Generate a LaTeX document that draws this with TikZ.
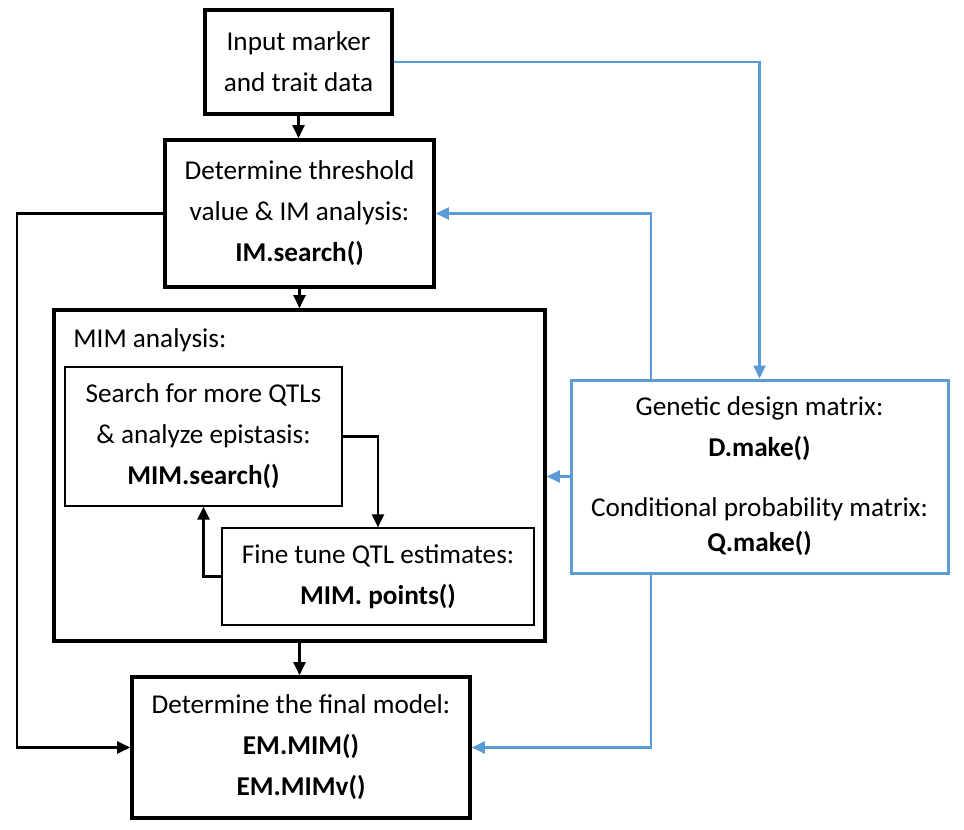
\documentclass[tikz,border=0pt]{standalone}
\usepackage{fontspec}
\setmainfont{Carlito}
\usetikzlibrary{arrows.meta, positioning, calc}
\definecolor{linkblue}{RGB}{91,155,213}

\begin{document}
\begin{tikzpicture}[x=0.5pt, y=-0.5pt,
   font=\fontsize{13.6}{20.5}\selectfont,
   box/.style={draw, rectangle, line width=1.8pt, align=center, inner sep=0pt},
   subbox/.style={draw, rectangle, line width=0.6pt, align=center, inner sep=0pt},
   bluebox/.style={draw=linkblue, rectangle, line width=1.5pt, align=center, inner sep=0pt},
   arr/.style={-{Triangle[length=6.5pt, width=6pt]}, line width=1.1pt},
   bluearr/.style={arr, draw=linkblue}]
\useasboundingbox (0,0) rectangle (964,830);

% Main steps
\node[box, minimum width=93.5pt, minimum height=52pt] (input) at (298.5, 62) {Input marker\\and trait data};
\node[box, minimum width=134.5pt, minimum height=73.5pt] (thresh) at (299.5, 213.5) {Determine threshold\\value \& IM analysis:\\\textbf{IM.search()}};
\node[box, minimum width=245.5pt, minimum height=165.5pt] (mim) at (299.5, 475.5) {};
\node[anchor=west, inner sep=0pt] (mimlbl) at (73, 340) {MIM analysis:};
\node[box, minimum width=169pt, minimum height=70.5pt] (final) at (301, 747.5) {Determine the final model:\\\textbf{EM.MIM()}\\\textbf{EM.MIMv()}};

% MIM loop
\node[subbox, minimum width=138.5pt, minimum height=69.5pt] (search) at (203.5, 436.5) {Search for more QTLs\\\& analyze epistasis:\\\textbf{MIM.search()}};
\node[subbox, minimum width=156pt, minimum height=48.5pt] (fine) at (378, 576.5) {Fine tune QTL estimates:\\\textbf{MIM. points()}};

% Design matrices
\node[bluebox, minimum width=188.5pt, minimum height=96.5pt] (gen) at (759.5, 476.5) {Genetic design matrix:\\\textbf{D.make()}\\[9.5pt]Conditional probability matrix:\\[-3pt]\textbf{Q.make()}};

\coordinate (lft) at (17, 0);
\coordinate (tap) at (651, 0);

% Black connectors
\draw[arr] (input.south) -- (input.south |- thresh.north);
\draw[arr] (thresh.south) -- (thresh.south |- mim.north);
\draw[arr] (mim.south) -- (mim.south |- final.north);
\draw[arr] (thresh.west) -- (thresh.west -| lft) -- (lft |- final.west) -- (final.west);
\draw[arr] (search.east) -| (fine.north);
\draw[arr] (fine.west) -| (search.south);

% Blue connectors
\draw[bluearr] (input.east) -| (gen.north);
\draw[bluearr] (tap |- gen.north) |- (thresh.east);
\draw[bluearr] (gen.west) -- (gen.west -| mim.east);
\draw[bluearr] (tap |- gen.south) |- (final.east);
\end{tikzpicture}
\end{document}
